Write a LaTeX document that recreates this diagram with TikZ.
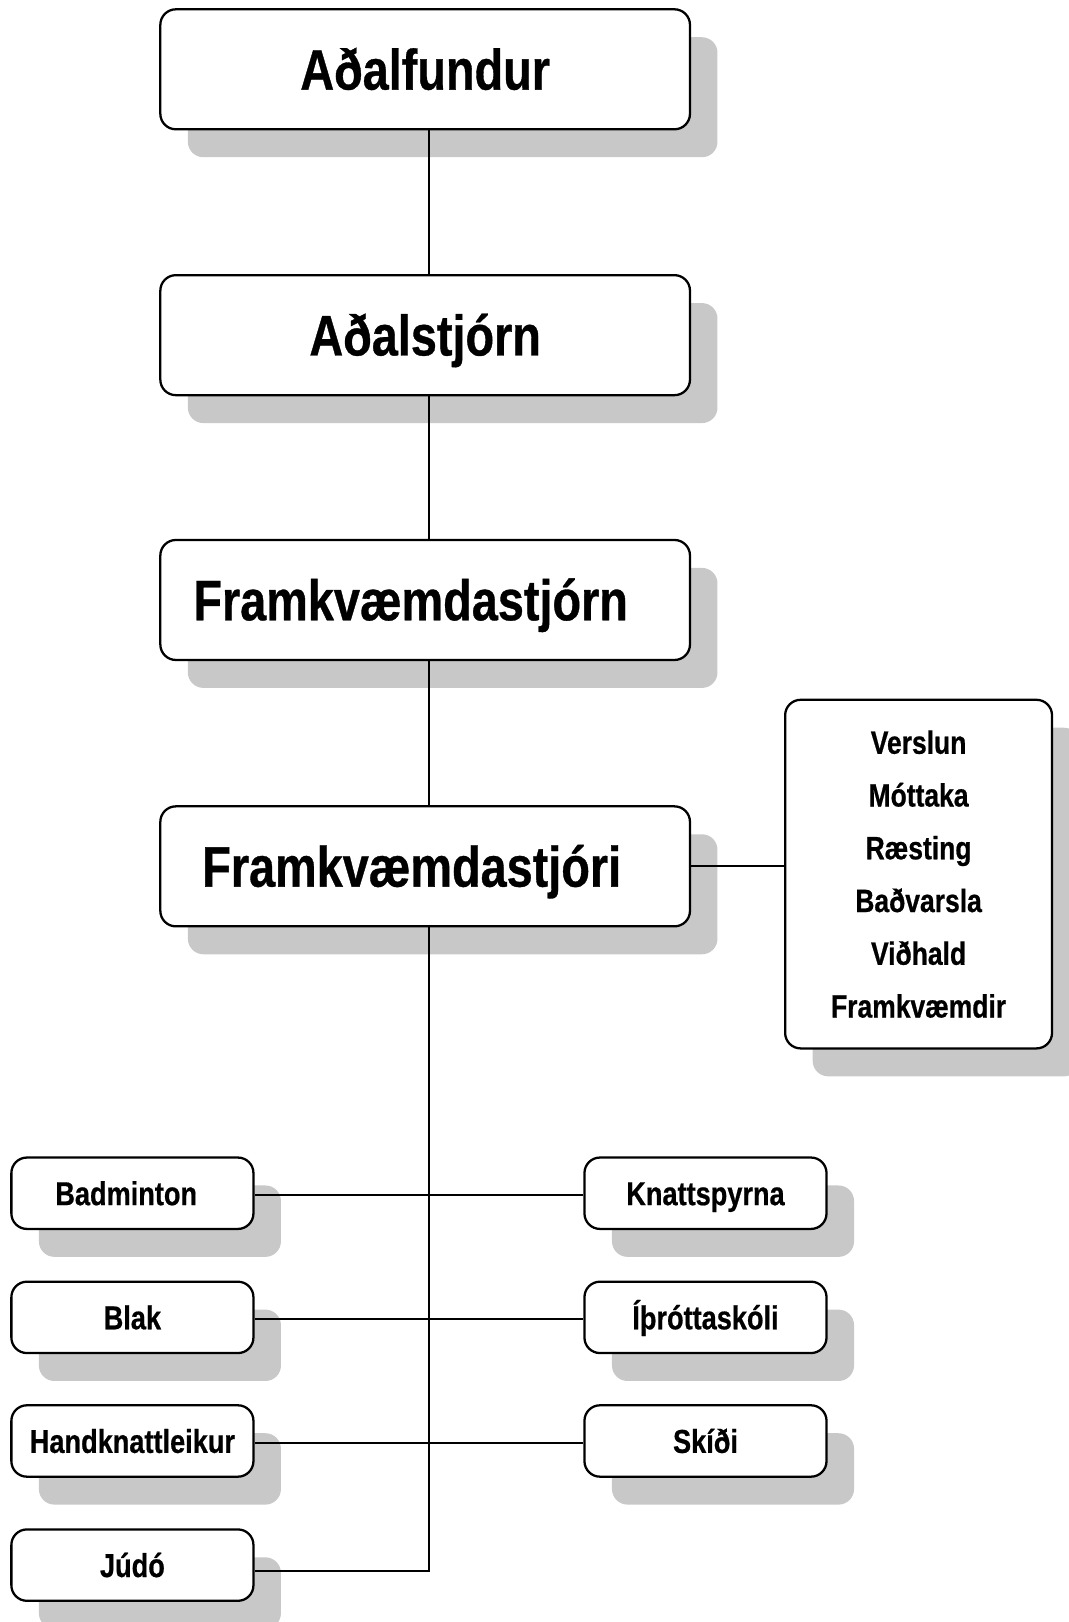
\documentclass[tikz,border=0pt]{standalone}
\usepackage{fontspec}
\newfontfamily\cf{Liberation Sans}[FakeStretch=0.82, BoldFeatures={FakeBold=0.6}]
\usetikzlibrary{shadows}
\definecolor{shadowgray}{RGB}{200,200,200}
\tikzset{
  box/.style={draw=black, line width=1.1pt, fill=white, rounded corners=7.5pt,
    inner sep=0pt, anchor=center,
    drop shadow={shadow xshift=13.3pt, shadow yshift=-13.5pt, fill=shadowgray, opacity=1, draw=none}},
  bigbox/.style={box, minimum width=256pt, minimum height=58pt,
    font=\cf\bfseries\fontsize{27.6}{30}\selectfont, text height=19.6pt, text depth=0pt},
  smallbox/.style={box, minimum width=117pt, minimum height=34.5pt,
    font=\cf\bfseries\fontsize{16}{18}\selectfont, text height=11.5pt, text depth=0pt},
  listbox/.style={box, minimum width=129pt, minimum height=168.5pt, align=center,
    font=\cf\bfseries\fontsize{15.6}{25.5}\selectfont},
  conn/.style={draw=black, line width=1.1pt}
}
\begin{document}
\begin{tikzpicture}[x=0.5pt,y=-0.5pt]
\useasboundingbox (0,0) rectangle (1033,1568);
\node[bigbox] (b1) at (411,67) {Aðalfundur};
\node[bigbox] (b2) at (411,324) {Aðalstjórn};
\node[bigbox] (b3) at (411,580) {\hspace*{-14pt}Framkvæmdastjórn};
\node[bigbox] (b4) at (411,837.5) {\hspace*{-13pt}Framkvæmdastjóri};
\node[listbox] (rb) at (888,845) {Verslun\\Móttaka\\Ræsting\\Baðvarsla\\Viðhald\\Framkvæmdir};
\node[smallbox] (badm) at (128,1153.5) {\hspace*{-6pt}Badminton};
\node[smallbox] (blak) at (128,1273.5) {Blak};
\node[smallbox] (hand) at (128,1393) {Handknattleikur};
\node[smallbox] (judo) at (128,1513) {Júdó};
\node[smallbox] (knatt) at (682,1153.5) {Knattspyrna};
\node[smallbox] (ithr) at (682,1273.5) {Íþróttaskóli};
\node[smallbox] (skidi) at (682,1393) {Skíði};
\draw[conn] ([xshift=2pt]b1.south) -- ([xshift=2pt]b2.north);
\draw[conn] ([xshift=2pt]b2.south) -- ([xshift=2pt]b3.north);
\draw[conn] ([xshift=2pt]b3.south) -- ([xshift=2pt]b4.north);
\draw[conn] (b4.east) -- (b4.east -| rb.west);
\draw[conn] ([xshift=2pt]b4.south) |- ([yshift=-3pt]judo.east);
\draw[conn] ([yshift=-0.8pt]badm.east) -- ([yshift=-0.8pt]knatt.west);
\draw[conn] ([yshift=-0.8pt]blak.east) -- ([yshift=-0.8pt]ithr.west);
\draw[conn] ([yshift=-0.8pt]hand.east) -- ([yshift=-0.8pt]skidi.west);
\end{tikzpicture}
\end{document}
